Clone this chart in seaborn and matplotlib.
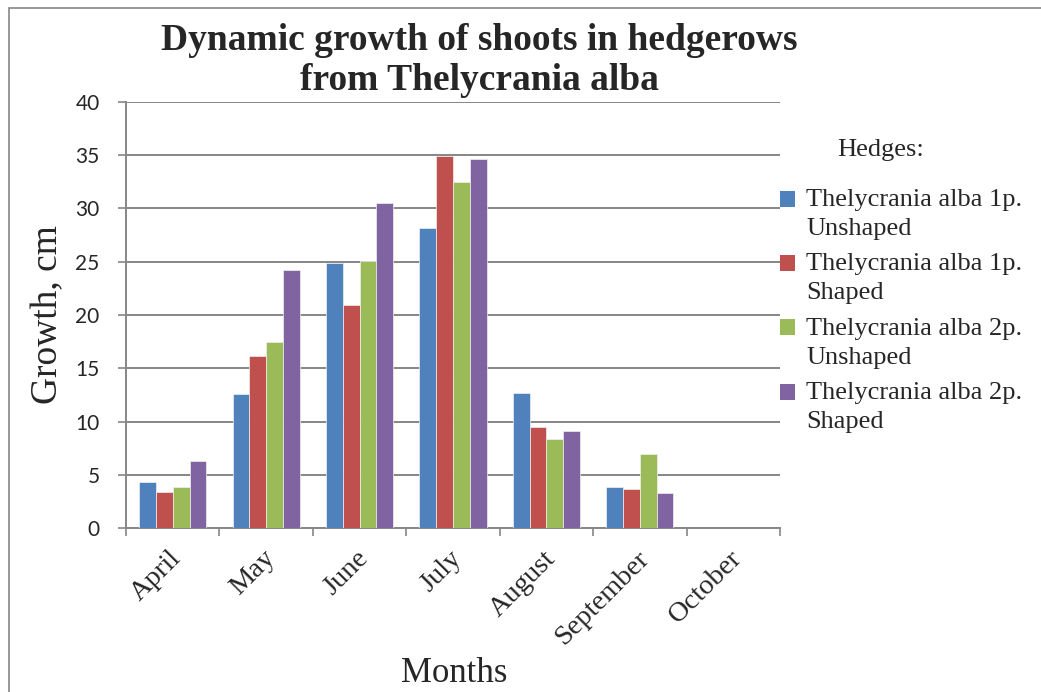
import numpy as np
import pandas as pd
import seaborn as sns
import matplotlib
matplotlib.use("Agg")
import matplotlib.pyplot as plt
from matplotlib.patches import Rectangle
from matplotlib.transforms import ScaledTranslation

# Growth of shoots (cm) per month for each hedge variant
months = ["April", "May", "June", "July", "August", "September", "October"]
alba_1p_unshaped = [4.3, 12.6, 24.9, 28.2, 12.7, 3.9, 0.0]
alba_1p_shaped = [3.4, 16.2, 20.9, 34.9, 9.5, 3.7, 0.0]
alba_2p_unshaped = [3.9, 17.5, 25.1, 32.5, 8.4, 7.0, 0.0]
alba_2p_shaped = [6.3, 24.2, 30.5, 34.6, 9.1, 3.3, 0.0]
hedge_names = [
    "Thelycrania alba 1p.\nUnshaped",
    "Thelycrania alba 1p.\nShaped",
    "Thelycrania alba 2p.\nUnshaped",
    "Thelycrania alba 2p.\nShaped",
]
y_ticks = [0, 5, 10, 15, 20, 25, 30, 35, 40]

colors = ["#4F81BD", "#C0504D", "#9BBB59", "#8064A2"]
GRID = "#868686"
SERIF = ["Liberation Serif", "DejaVu Serif"]

sns.set_theme(style="white")
plt.rcParams["font.family"] = SERIF

series = [alba_1p_unshaped, alba_1p_shaped, alba_2p_unshaped, alba_2p_shaped]
df = pd.DataFrame({
    "Month": np.tile(months, len(series)),
    "Growth": np.concatenate(series),
    "Hedge": np.repeat(hedge_names, len(months)),
})

W, H = 1041, 692
fig = plt.figure(figsize=(W / 100, H / 100), dpi=100)
fig.patch.set_facecolor("white")

# outer chart frame (open to the right and bottom)
fig.patches.append(Rectangle((9 / W, -0.1), 1.2, 1 - 8 / H + 0.1,
                             transform=fig.transFigure, fill=False,
                             edgecolor=GRID, linewidth=1.2, zorder=0))

left, right, top, bottom = 126, 780, 101.7, 528.3
ax = fig.add_axes([left / W, 1 - bottom / H, (right - left) / W, (bottom - top) / H])

sns.barplot(data=df, x="Month", y="Growth", hue="Hedge", order=months,
            hue_order=hedge_names, palette=colors, saturation=1,
            width=0.72, gap=0, errorbar=None, ax=ax, legend=False,
            edgecolor="#f0f0f0", linewidth=0.5, zorder=3)

ax.set_ylim(0, 40)
ax.set_xlim(-0.5, len(months) - 0.5)
ax.set_yticks(y_ticks)
ax.set_yticklabels([str(v) for v in y_ticks], fontfamily=["Lato", "DejaVu Sans"],
                   fontsize=15)
ax.yaxis.grid(True, color=GRID, linewidth=1.4, zorder=0)
ax.xaxis.grid(False)
ax.set_axisbelow(True)

for s in ["top", "right"]:
    ax.spines[s].set_visible(False)
for s in ["left", "bottom"]:
    ax.spines[s].set_color(GRID)
    ax.spines[s].set_linewidth(1.4)

ax.tick_params(axis="y", which="major", direction="out", length=6, width=1.2,
               color=GRID, pad=13, left=True)
# category boundaries carry the x ticks; labels sit at the centres
ax.set_xticks(np.arange(-0.5, len(months)), minor=True)
ax.tick_params(axis="x", which="minor", direction="out", length=6, width=1.2,
               color=GRID, bottom=True)
ax.tick_params(axis="x", which="major", length=0, pad=19)
ax.set_xticks(range(len(months)))
ax.set_xticklabels(months, rotation=45, ha="right", va="center",
                   rotation_mode="anchor", fontsize=20.5, fontfamily=SERIF)
shift = ScaledTranslation(5 / 100, 0, fig.dpi_scale_trans)
for lab in ax.get_xticklabels():
    lab.set_transform(lab.get_transform() + shift)

ax.set_xlabel("")
ax.set_ylabel("")

fig.text(48 / W, 1 - 315 / H, "Growth, cm", rotation=90, ha="center", va="center",
         fontsize=27, fontfamily=SERIF)
fig.text(454 / W, 1 - 674 / H, "Months", ha="center", va="center",
         fontsize=25, fontfamily=SERIF)
fig.text(479 / W, 1 - 40 / H, "Dynamic growth of shoots in hedgerows",
         ha="center", va="center", fontsize=27, fontweight="bold", fontfamily=SERIF)
fig.text(479 / W, 1 - 80 / H, "from Thelycrania alba",
         ha="center", va="center", fontsize=27, fontweight="bold", fontfamily=SERIF)

# legend
handles = [Rectangle((0, 0), 1, 1, facecolor=c, edgecolor="none") for c in colors]
leg = fig.legend(handles, hedge_names, loc="upper left",
                 bbox_to_anchor=(780 / W, 1 - 189 / H), frameon=False,
                 handlelength=0.55, handleheight=0.55,
                 handletextpad=0.45, labelspacing=0.5, borderpad=0,
                 borderaxespad=0, prop={"family": SERIF, "size": 19})
for t in leg.get_texts():
    t.set_linespacing(1.42)
# raise each swatch from the middle of its two-line label to the first line
for p in leg.get_patches():
    p.set_y(p.get_y() + 15 * 0.72)
fig.text(881 / W, 1 - 150 / H, "Hedges:", ha="center", va="center",
         fontsize=19, fontfamily=SERIF)

fig.savefig("out.png", dpi=100, facecolor="white")
